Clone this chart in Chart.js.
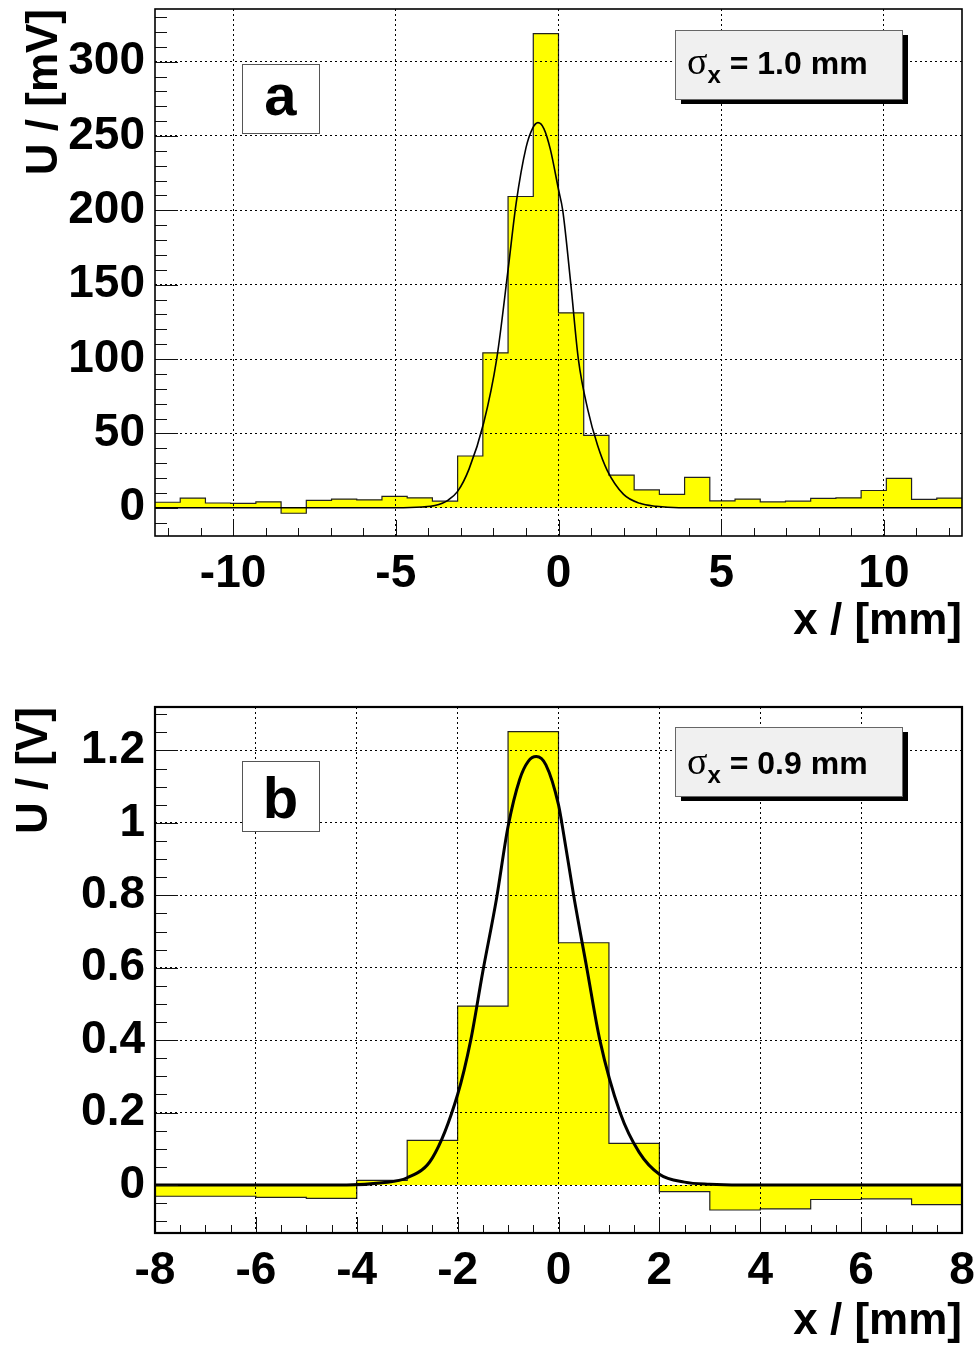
<!DOCTYPE html>
<html><head><meta charset="utf-8">
<script src="https://cdn.jsdelivr.net/npm/chart.js@4.4.1/dist/chart.umd.min.js"></script>
<style>
html,body{margin:0;padding:0;background:#fff;}
#wrap{position:relative;width:977px;height:1348px;overflow:hidden;}
canvas{position:absolute;left:0;}
</style>
</head><body>
<div id="wrap">
<canvas id="c1" width="977" height="674" style="top:0px"></canvas>
<canvas id="c2" width="977" height="674" style="top:674px"></canvas>
</div>
<script>
// ---------- Panel a (U in mV) ----------
const topBinEdges = [-12.4,-11.625,-10.85,-10.075,-9.3,-8.525,-7.75,-6.975,-6.2,-5.425,-4.65,-3.875,-3.1,-2.325,-1.55,-0.775,0,0.775,1.55,2.325,3.1,3.875,4.65,5.425,6.2,6.975,7.75,8.525,9.3,10.075,10.85,11.625,12.4];
const topBinValues = [3.7,6.5,3.2,2.9,4.0,-3.7,4.9,5.8,5.3,7.7,6.7,4.4,34.8,104.2,209.3,318.8,131.1,48.7,22.0,12.0,9.0,20.4,4.6,5.8,3.9,4.4,6.3,6.7,11.6,19.7,5.6,6.5];
const topFitX = [-12.4,-5,-4.2,-3.8,-3.4,-3.1,-2.75,-2.3,-1.9,-1.55,-1.3,-1.0,-0.8,-0.63,-0.45,-0.25,0,0.13,0.38,0.61,0.9,1.2,1.5,2.0,2.5,3.0,3.7,12.4];
const topFitY = [0,0,0.5,1.5,5,11,26,57,100,160,205,242,255,259,255,241,214,200,150,100,66,42,25,9,3,1,0,0];
const topXTicks = [-10,-5,0,5,10];
const topXTickLabels = ['-10','-5','0','5','10'];
const topYTicks = [0,50,100,150,200,250,300];
const topYTickLabels = ['0','50','100','150','200','250','300'];
const topXTitle = 'x / [mm]';
const topYTitle = 'U / [mV]';
const topPanelLabel = 'a';
const topSigmaValue = '1.0 mm';

// ---------- Panel b (U in V) ----------
const botBinEdges = [-8,-7,-6,-5,-4,-3,-2,-1,0,1,2,3,4,5,6,7,8];
const botBinValues = [-0.031,-0.031,-0.034,-0.037,0.013,0.123,0.494,1.252,0.669,0.115,-0.018,-0.069,-0.066,-0.040,-0.038,-0.054];
const botFitX = [-8,-4.2,-3.5,-3.0,-2.5,-2.0,-1.74,-1.5,-1.23,-1.0,-0.77,-0.6,-0.44,-0.25,0,0.066,0.3,0.56,0.82,1.22,1.6,2.0,2.5,3.0,3.6,8];
const botFitY = [0,0,0.006,0.02,0.075,0.25,0.40,0.59,0.79,0.99,1.12,1.17,1.183,1.16,1.05,1.0,0.8,0.6,0.4,0.2,0.09,0.03,0.008,0.002,0,0];
const botXTicks = [-8,-6,-4,-2,0,2,4,6,8];
const botXTickLabels = ['-8','-6','-4','-2','0','2','4','6','8'];
const botYTicks = [0,0.2,0.4,0.6,0.8,1.0,1.2];
const botYTickLabels = ['0','0.2','0.4','0.6','0.8','1','1.2'];
const botXTitle = 'x / [mm]';
const botYTitle = 'U / [V]';
const botPanelLabel = 'b';
const botSigmaValue = '0.9 mm';

const FAM = "'Liberation Sans', Arial, Helvetica, sans-serif";

const rootDeco = {
  id: 'rootDeco',
  afterDraw(chart, args, o) {
    const {ctx, chartArea: a, scales: {x, y}} = chart;
    ctx.save();
    ctx.strokeStyle = '#111';
    ctx.lineWidth = 1;
    ctx.setLineDash([]);
    ctx.beginPath();
    for (let v = o.xMinorStart; v <= o.xMinorEnd + 1e-9; v += o.xMinorStep) {
      const px = Math.round(x.getPixelForValue(v)) + 0.5;
      const major = o.xMajor.some(t => Math.abs(t - v) < 1e-6);
      const len = major ? o.xMajorLen : o.xMinorLen;
      ctx.moveTo(px, a.bottom); ctx.lineTo(px, a.bottom - len);
    }
    for (let v = o.yMinorStart; v <= o.yMinorEnd + 1e-9; v += o.yMinorStep) {
      const py = Math.round(y.getPixelForValue(v)) + 0.5;
      if (py < a.top || py > a.bottom) continue;
      const major = o.yMajor.some(t => Math.abs(t - v) < 1e-6);
      const len = major ? o.yMajorLen : o.yMinorLen;
      ctx.moveTo(a.left, py); ctx.lineTo(a.left + len, py);
    }
    ctx.stroke();
    ctx.lineWidth = o.frameWidth;
    ctx.strokeStyle = '#000';
    ctx.strokeRect(a.left, a.top, a.right - a.left, a.bottom - a.top);

    const lb = o.labelBox;
    ctx.fillStyle = '#fff';
    ctx.fillRect(lb.x, lb.y, lb.w, lb.h);
    ctx.lineWidth = 1;
    ctx.strokeStyle = '#555';
    ctx.strokeRect(lb.x + 0.5, lb.y + 0.5, lb.w, lb.h);
    ctx.fillStyle = '#000';
    ctx.font = 'bold 58px ' + FAM;
    ctx.textAlign = 'center';
    ctx.textBaseline = 'alphabetic';
    ctx.fillText(o.labelText, lb.x + lb.w / 2, lb.textY);

    const sb = o.sigmaBox;
    ctx.fillStyle = '#000';
    ctx.fillRect(sb.x + 6, sb.y + 5, sb.w, sb.h);
    ctx.fillStyle = '#f0f0f0';
    ctx.fillRect(sb.x, sb.y, sb.w, sb.h);
    ctx.strokeStyle = '#666';
    ctx.strokeRect(sb.x + 0.5, sb.y + 0.5, sb.w, sb.h);
    ctx.fillStyle = '#000';
    ctx.textAlign = 'left';
    let tx = sb.x + 12;
    const bl = sb.y + sb.base;
    ctx.font = "38px 'Liberation Serif', 'DejaVu Serif', serif";
    ctx.fillText('σ', tx, bl);
    tx += ctx.measureText('σ').width;
    ctx.font = 'bold 24px ' + FAM;
    ctx.fillText('x', tx, bl + 9);
    tx += ctx.measureText('x').width;
    ctx.font = 'bold 32px ' + FAM;
    ctx.fillText(' = ' + o.sigmaText, tx, bl);
    ctx.restore();
  }
};

function makeChart(id, d) {
  const tickFont = {family: FAM, size: 46, weight: 'bold', lineHeight: 1.2};
  const titleFont = {family: FAM, size: 44, weight: 'bold', lineHeight: 1.2};
  const histData = d.edges.map((e, i) => ({x: e, y: d.values[Math.min(i, d.values.length - 1)]}));
  const fitData = d.fitX.map((v, i) => ({x: v, y: d.fitY[i]}));
  return new Chart(document.getElementById(id), {
    type: 'line',
    data: {
      datasets: [
        {data: fitData, borderColor: '#000', borderWidth: d.fitWidth, pointRadius: 0,
         cubicInterpolationMode: 'monotone', fill: false},
        {data: histData, stepped: 'before', borderColor: '#222', borderWidth: 1.2, pointRadius: 0,
         backgroundColor: '#ffff00', fill: 'origin'}
      ]
    },
    options: {
      responsive: false, animation: false, devicePixelRatio: 1,
      layout: {padding: {left: 0, right: 15, top: d.padTop, bottom: 0}},
      plugins: {legend: {display: false}, tooltip: {enabled: false},
        rootDeco: d.deco},
      scales: {
        x: {
          type: 'linear', min: d.xMin, max: d.xMax,
          afterBuildTicks: s => { s.ticks = d.xTicks.map(v => ({value: v})); },
          afterFit: s => { s.height = d.xAxisH; s.paddingLeft = 0; s.paddingRight = 0; s.paddingTop = 0; s.paddingBottom = 0; },
          ticks: {font: tickFont, color: '#000', padding: 11, maxRotation: 0, autoSkip: false,
                  callback: (v, i) => d.xLabels[i]},
          grid: {color: '#000', lineWidth: 1, drawTicks: false, z: 1},
          border: {display: false, dash: [2, 3]},
          title: {display: true, text: d.xTitle, align: 'end', font: titleFont, color: '#000',
                  padding: {top: 0, bottom: d.xTitlePad}}
        },
        y: {
          type: 'linear', min: d.yMin, max: d.yMax,
          afterBuildTicks: s => { s.ticks = d.yTicks.map(v => ({value: v})); },
          afterFit: s => { s.width = 155; s.paddingTop = 0; s.paddingBottom = 0; s.paddingLeft = 0; s.paddingRight = 0; },
          ticks: {font: tickFont, color: '#000', padding: 10, autoSkip: false,
                  callback: (v, i) => d.yLabels[i]},
          grid: {color: '#000', lineWidth: 1, drawTicks: false, z: 1},
          border: {display: false, dash: [2, 3]},
          title: {display: true, text: d.yTitle, align: 'end', font: titleFont, color: '#000',
                  padding: {top: d.yTitlePad, bottom: 0}}
        }
      }
    },
    plugins: [rootDeco]
  });
}

makeChart('c1', {
  edges: topBinEdges, values: topBinValues, fitX: topFitX, fitY: topFitY, fitWidth: 1.6,
  xMin: -12.4, xMax: 12.4, yMin: -19.0, yMax: 335.4,
  xTicks: topXTicks, xLabels: topXTickLabels, yTicks: topYTicks, yLabels: topYTickLabels,
  xTitle: topXTitle, yTitle: topYTitle, padTop: 9, xAxisH: 138, xTitlePad: 26, yTitlePad: 18,
  deco: {xMinorStart: -12, xMinorEnd: 12, xMinorStep: 1, xMajor: topXTicks, xMajorLen: 16, xMinorLen: 8,
         yMinorStart: -10, yMinorEnd: 330, yMinorStep: 10, yMajor: topYTicks, yMajorLen: 23, yMinorLen: 12,
         frameWidth: 1.6,
         labelBox: {x: 242, y: 64, w: 77, h: 69, textY: 115}, labelText: topPanelLabel,
         sigmaBox: {x: 675, y: 30, w: 227, h: 69, base: 44}, sigmaText: topSigmaValue}
});

makeChart('c2', {
  edges: botBinEdges, values: botBinValues, fitX: botFitX, fitY: botFitY, fitWidth: 3,
  xMin: -8, xMax: 8, yMin: -0.1325, yMax: 1.32,
  xTicks: botXTicks, xLabels: botXTickLabels, yTicks: botYTicks, yLabels: botYTickLabels,
  xTitle: botXTitle, yTitle: botYTitle, padTop: 33, xAxisH: 115, xTitlePad: 0, yTitlePad: 8,
  deco: {xMinorStart: -8, xMinorEnd: 8, xMinorStep: 0.5, xMajor: botXTicks, xMajorLen: 16, xMinorLen: 8,
         yMinorStart: -0.1, yMinorEnd: 1.3, yMinorStep: 0.05, yMajor: botYTicks, yMajorLen: 23, yMinorLen: 12,
         frameWidth: 2.2,
         labelBox: {x: 242, y: 87, w: 77, h: 70, textY: 144}, labelText: botPanelLabel,
         sigmaBox: {x: 675, y: 53, w: 227, h: 69, base: 47}, sigmaText: botSigmaValue}
});
</script>
</body></html>
